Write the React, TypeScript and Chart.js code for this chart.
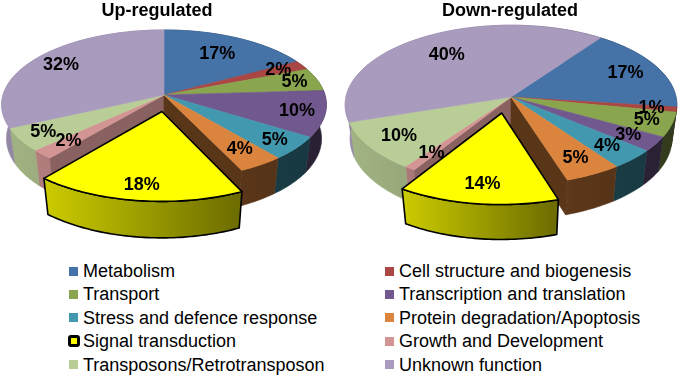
import React, { useEffect, useRef } from "react";
import { Chart, registerables } from "chart.js";

Chart.register(...registerables);

const categories = [
  "Metabolism",
  "Cell structure and biogenesis",
  "Transport",
  "Transcription and translation",
  "Stress and defence response",
  "Protein degradation/Apoptosis",
  "Signal transduction",
  "Growth and Development",
  "Transposons/Retrotransposon",
  "Unknown function",
];
const upValues = [17, 2, 5, 10, 5, 4, 18, 2, 5, 32];
const downValues = [17, 1, 5, 3, 4, 5, 14, 1, 10, 40];
const sliceColors = ["#4572a7", "#aa4643", "#89a54e", "#71588f", "#4198af", "#db843d", "#ffff00", "#d39594", "#b9cd96", "#a99bbd"];
const explodedCategory = "Signal transduction";

const FONT = "'Liberation Sans', Arial, sans-serif";

function shade(hex: string, f: number) {
  const n = parseInt(hex.slice(1), 16);
  const c = [(n >> 16) & 255, (n >> 8) & 255, n & 255].map((x) => Math.round(x * f));
  return `rgb(${c[0]},${c[1]},${c[2]})`;
}

const pie3d = {
  id: "pie3d",
  beforeDatasetsDraw(chart: any, _args: any, o: any) {
    const ctx = chart.ctx as CanvasRenderingContext2D;
    const arcs = chart.getDatasetMeta(0).data as any[];
    const { cx, cy, A, B, k, D, explode, explodeShift, labelR } = o;
    const project = (u: number, v: number, z = 0) => {
      const w = 1 - k * v + 0.03 * z;
      return [cx + (A * u) / w, cy + (B * v + D * z) / w];
    };
    const geo = arcs.map((arc) => {
      const a0 = arc.startAngle + Math.PI / 2;
      const a1 = arc.endAngle + Math.PI / 2;
      const mid = (a0 + a1) / 2;
      const off = (arc.options.offset || 0) > 0 ? explode : 0;
      return {
        a0, a1, mid,
        du: Math.sin(mid) * off + (off > 0 ? explodeShift : 0),
        dv: -Math.cos(mid) * off,
        color: arc.options.backgroundColor,
        exploded: off > 0,
      };
    });
    const arcPts = (g: any, z: number) => {
      const pts: number[][] = [];
      const n = Math.max(2, Math.ceil((g.a1 - g.a0) / 0.02));
      for (let i = 0; i <= n; i++) {
        const t = g.a0 + ((g.a1 - g.a0) * i) / n;
        pts.push(project(Math.sin(t) + g.du, -Math.cos(t) + g.dv, z));
      }
      return pts;
    };
    const poly = (pts: number[][]) => {
      ctx.beginPath();
      pts.forEach((p, i) => (i ? ctx.lineTo(p[0], p[1]) : ctx.moveTo(p[0], p[1])));
      ctx.closePath();
    };
    const wallGradient = (color: string) => {
      const g = ctx.createLinearGradient(cx - A, 0, cx + A, 0);
      g.addColorStop(0, shade(color, 0.88));
      g.addColorStop(0.45, shade(color, 0.72));
      g.addColorStop(0.68, shade(color, 0.42));
      g.addColorStop(1, shade(color, 0.36));
      return g;
    };
    const paint = (style: any) => {
      ctx.fillStyle = style;
      ctx.strokeStyle = style;
      ctx.lineWidth = 0.6;
      ctx.fill();
      ctx.stroke();
    };
    const plain = geo.filter((g) => !g.exploded);
    // outer walls
    plain.forEach((g) => {
      poly([...arcPts(g, 0), ...arcPts(g, 1).reverse()]);
      paint(wallGradient(g.color));
    });
    // walls of the gap left by the pulled-out slice
    geo.forEach((g, i) => {
      if (!g.exploded) return;
      const next = geo[(i + 1) % geo.length];
      const prev = geo[(i - 1 + geo.length) % geo.length];
      const e = arcPts(next, 0)[0];
      const eb = arcPts(next, 1)[0];
      poly([project(0, 0, 0), e, eb, project(0, 0, 1)]);
      paint(shade(next.color, 0.65));
      const pt = arcPts(prev, 0);
      const pb = arcPts(prev, 1);
      poly([project(0, 0, 0), pt[pt.length - 1], pb[pb.length - 1], project(0, 0, 1)]);
      paint(shade(prev.color, 0.41));
    });
    // top faces
    plain.forEach((g) => {
      poly([project(0, 0), ...arcPts(g, 0)]);
      paint(g.color);
    });
    // pulled-out slice
    geo.filter((g) => g.exploded).forEach((g) => {
      const top = arcPts(g, 0);
      const bottom = arcPts(g, 1);
      const xs = top.map((p) => p[0]);
      const grad = ctx.createLinearGradient(Math.min(...xs), 0, Math.max(...xs), 0);
      grad.addColorStop(0, shade(g.color, 0.8));
      grad.addColorStop(1, shade(g.color, 0.42));
      poly([...top, ...bottom.reverse()]);
      ctx.fillStyle = grad;
      ctx.fill();
      ctx.strokeStyle = "#000";
      ctx.lineWidth = 1.6;
      ctx.lineJoin = "round";
      ctx.stroke();
      poly([project(g.du, g.dv), ...top]);
      ctx.fillStyle = g.color;
      ctx.fill();
      ctx.stroke();
    });
    // value labels
    const vals = chart.data.datasets[0].data as number[];
    ctx.fillStyle = "#000";
    ctx.font = `bold 18px ${FONT}`;
    ctx.textAlign = "center";
    ctx.textBaseline = "middle";
    geo.forEach((g, i) => {
      const r = labelR[i];
      const p = project(Math.sin(g.mid) * r + g.du, -Math.cos(g.mid) * r + g.dv);
      ctx.fillText(`${vals[i]}%`, p[0], p[1]);
    });
    return false;
  },
};

function makeChart(canvas: HTMLCanvasElement, title: string, values: number[], rotation: number, padRight: number, geometry: any) {
  return new Chart(canvas, {
    type: "pie",
    data: {
      labels: categories,
      datasets: [
        {
          data: values,
          backgroundColor: sliceColors,
          offset: categories.map((c) => (c === explodedCategory ? 30 : 0)),
        },
      ],
    },
    options: {
      responsive: false,
      animation: false,
      events: [],
      rotation,
      layout: { padding: { right: padRight } },
      plugins: {
        legend: { display: false },
        tooltip: { enabled: false },
        title: {
          display: true,
          text: title,
          color: "#000",
          font: { family: FONT, size: 18, weight: "bold", lineHeight: 1.2 },
          padding: { top: 0, bottom: 0 },
        },
        pie3d: geometry,
      } as any,
    },
    plugins: [pie3d],
  } as any);
}

const upGeometry = {
  cx: 164, cy: 95, A: 161, B: 73.5, k: 0.13, D: 35, explode: 0.22, explodeShift: 0.015,
  labelR: [0.7, 0.82, 0.85, 0.83, 0.85, 0.8, 0.85, 0.8, 0.85, 0.8],
};
const downGeometry = {
  cx: 171, cy: 97, A: 165, B: 79, k: 0.1, D: 35, explode: 0.2, explodeShift: -0.03,
  labelR: [0.78, 0.85, 0.85, 0.82, 0.8, 0.8, 0.8, 0.8, 0.8, 0.7],
};

export default function App() {
  const leftRef = useRef<HTMLCanvasElement>(null);
  const rightRef = useRef<HTMLCanvasElement>(null);
  useEffect(() => {
    const a = makeChart(leftRef.current!, "Up-regulated", upValues, 0, 26, upGeometry);
    const b = makeChart(rightRef.current!, "Down-regulated", downValues, 36, 0, downGeometry);
    return () => {
      a.destroy();
      b.destroy();
    };
  }, []);
  return (
    <div style={{ position: "fixed", left: 0, top: 0, width: 680, height: 376, background: "#fff", overflow: "hidden", fontFamily: FONT }}>
      <canvas ref={leftRef} width={340} height={250} style={{ position: "absolute", left: 0, top: 0, width: 340, height: 250 }} />
      <canvas ref={rightRef} width={340} height={250} style={{ position: "absolute", left: 340, top: 0, width: 340, height: 250 }} />
      {categories.map((c, i) => {
        const col = i % 2;
        const row = Math.floor(i / 2);
        const y = 271 + row * 23.4;
        const swatchX = col ? 385 : 69;
        const signal = c === explodedCategory;
        return (
          <React.Fragment key={c}>
            {signal ? (
              <div style={{ position: "absolute", left: swatchX - 1, top: y - 6.5, width: 6, height: 6, background: sliceColors[i], border: "3.5px solid #000", borderRadius: 3 }} />
            ) : (
              <div style={{ position: "absolute", left: swatchX, top: y - 4.5, width: 9, height: 9, background: sliceColors[i] }} />
            )}
            <div style={{ position: "absolute", left: col ? 399 : 83, top: y - 10, height: 20, lineHeight: "20px", fontSize: 18, color: "#000", whiteSpace: "nowrap" }}>{c}</div>
          </React.Fragment>
        );
      })}
    </div>
  );
}
